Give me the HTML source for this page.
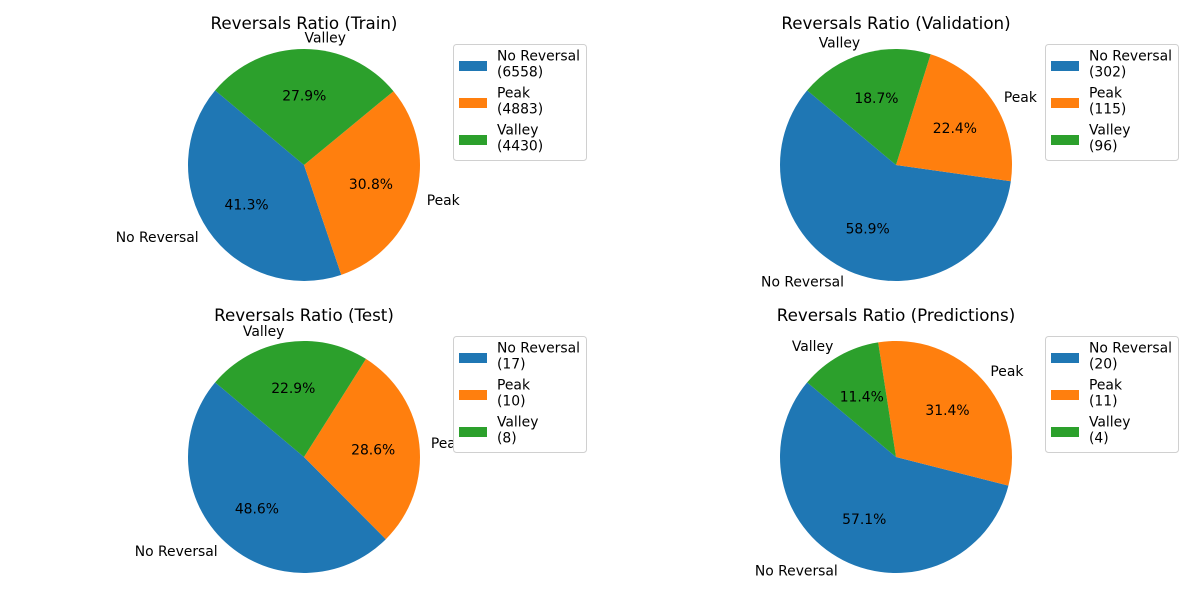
<!DOCTYPE html>
<html><head><meta charset="utf-8"><style>
html,body{margin:0;padding:0;background:#fff;}
svg{display:block;font-family:"DejaVu Sans","Liberation Sans",sans-serif;}
</style></head><body>
<svg id="chart" width="1200" height="600" viewBox="0 0 1200 600"></svg>
<script>
const categories = ["No Reversal", "Peak", "Valley"];
const trainCounts = [6558, 4883, 4430];
const validationCounts = [302, 115, 96];
const testCounts = [17, 10, 8];
const predictionCounts = [20, 11, 4];
const panelTitles = ["Reversals Ratio (Train)", "Reversals Ratio (Validation)", "Reversals Ratio (Test)", "Reversals Ratio (Predictions)"];
const colors = ["#1f77b4", "#ff7f0e", "#2ca02c"];
const NS = "http://www.w3.org/2000/svg";
const svg = document.getElementById("chart");
function mk(tag, attrs, parent) {
  const e = document.createElementNS(NS, tag);
  for (const k in attrs) e.setAttribute(k, attrs[k]);
  (parent || svg).appendChild(e);
  return e;
}
const panels = [
  {cx:304, cy:165, lx:453, ly:44, data:trainCounts, key:"train"},
  {cx:896, cy:165, lx:1045, ly:44, data:validationCounts, key:"validation"},
  {cx:304, cy:457, lx:453, ly:336, data:testCounts, key:"test"},
  {cx:896, cy:457, lx:1045, ly:336, data:predictionCounts, key:"predictions"}
];
const R = 116, START = 140, FS = 13.9;
panels.forEach((p, pi) => {
  const g = mk("g", {});
  
  
  const t = mk("text", {x:p.cx, y:p.cy - 136, "text-anchor":"middle", "font-size":"16.7", fill:"#000"}, g);
  t.textContent = panelTitles[pi];
  
  
  const total = p.data.reduce((a,b)=>a+b,0);
  let a0 = START;
  p.data.forEach((v, i) => {
    const span = v / total * 360;
    const a1 = a0 + span;
    const r0 = a0*Math.PI/180, r1 = a1*Math.PI/180;
    const x0 = p.cx + R*Math.cos(r0), y0 = p.cy - R*Math.sin(r0);
    const x1 = p.cx + R*Math.cos(r1), y1 = p.cy - R*Math.sin(r1);
    const large = span > 180 ? 1 : 0;
    const path = mk("path", {d:`M${p.cx},${p.cy} L${x0},${y0} A${R},${R} 0 ${large} 0 ${x1},${y1} Z`, fill:colors[i]}, g);
    
    
    const mid = (a0 + span/2)*Math.PI/180;
    const lx = p.cx + 1.1*R*Math.cos(mid), ly = p.cy - 1.1*R*Math.sin(mid);
    const lab = mk("text", {x:lx, y:ly+5, "text-anchor": Math.cos(mid) < 0 ? "end" : "start", "font-size":FS, fill:"#000"}, g);
    lab.textContent = categories[i];
    
    
    const px = p.cx + 0.6*R*Math.cos(mid), py = p.cy - 0.6*R*Math.sin(mid);
    const pct = mk("text", {x:px, y:py+5, "text-anchor":"middle", "font-size":FS, fill:"#000"}, g);
    pct.textContent = (v/total*100).toFixed(1) + "%";
    
    
    a0 = a1;
  });
  const lg = mk("g", {}, g);
  
  
  mk("rect", {x:p.lx+0.5, y:p.ly+0.5, width:133, height:116, rx:3, fill:"#fff", stroke:"#d0d0d0"}, lg);
  p.data.forEach((v, i) => {
    const ey = p.ly + 17 + i*37;
    const sw = mk("rect", {x:p.lx+6, y:ey, width:28, height:10, fill:colors[i]}, lg);
    
    
    const tx = mk("text", {x:p.lx+44, y:ey-0.5, "font-size":FS, fill:"#000"}, lg);
    
    
    const s1 = mk("tspan", {x:p.lx+44}, tx); s1.textContent = categories[i];
    const s2 = mk("tspan", {x:p.lx+44, dy:16}, tx); s2.textContent = "(" + v + ")";
  });
});
</script>
</body></html>
